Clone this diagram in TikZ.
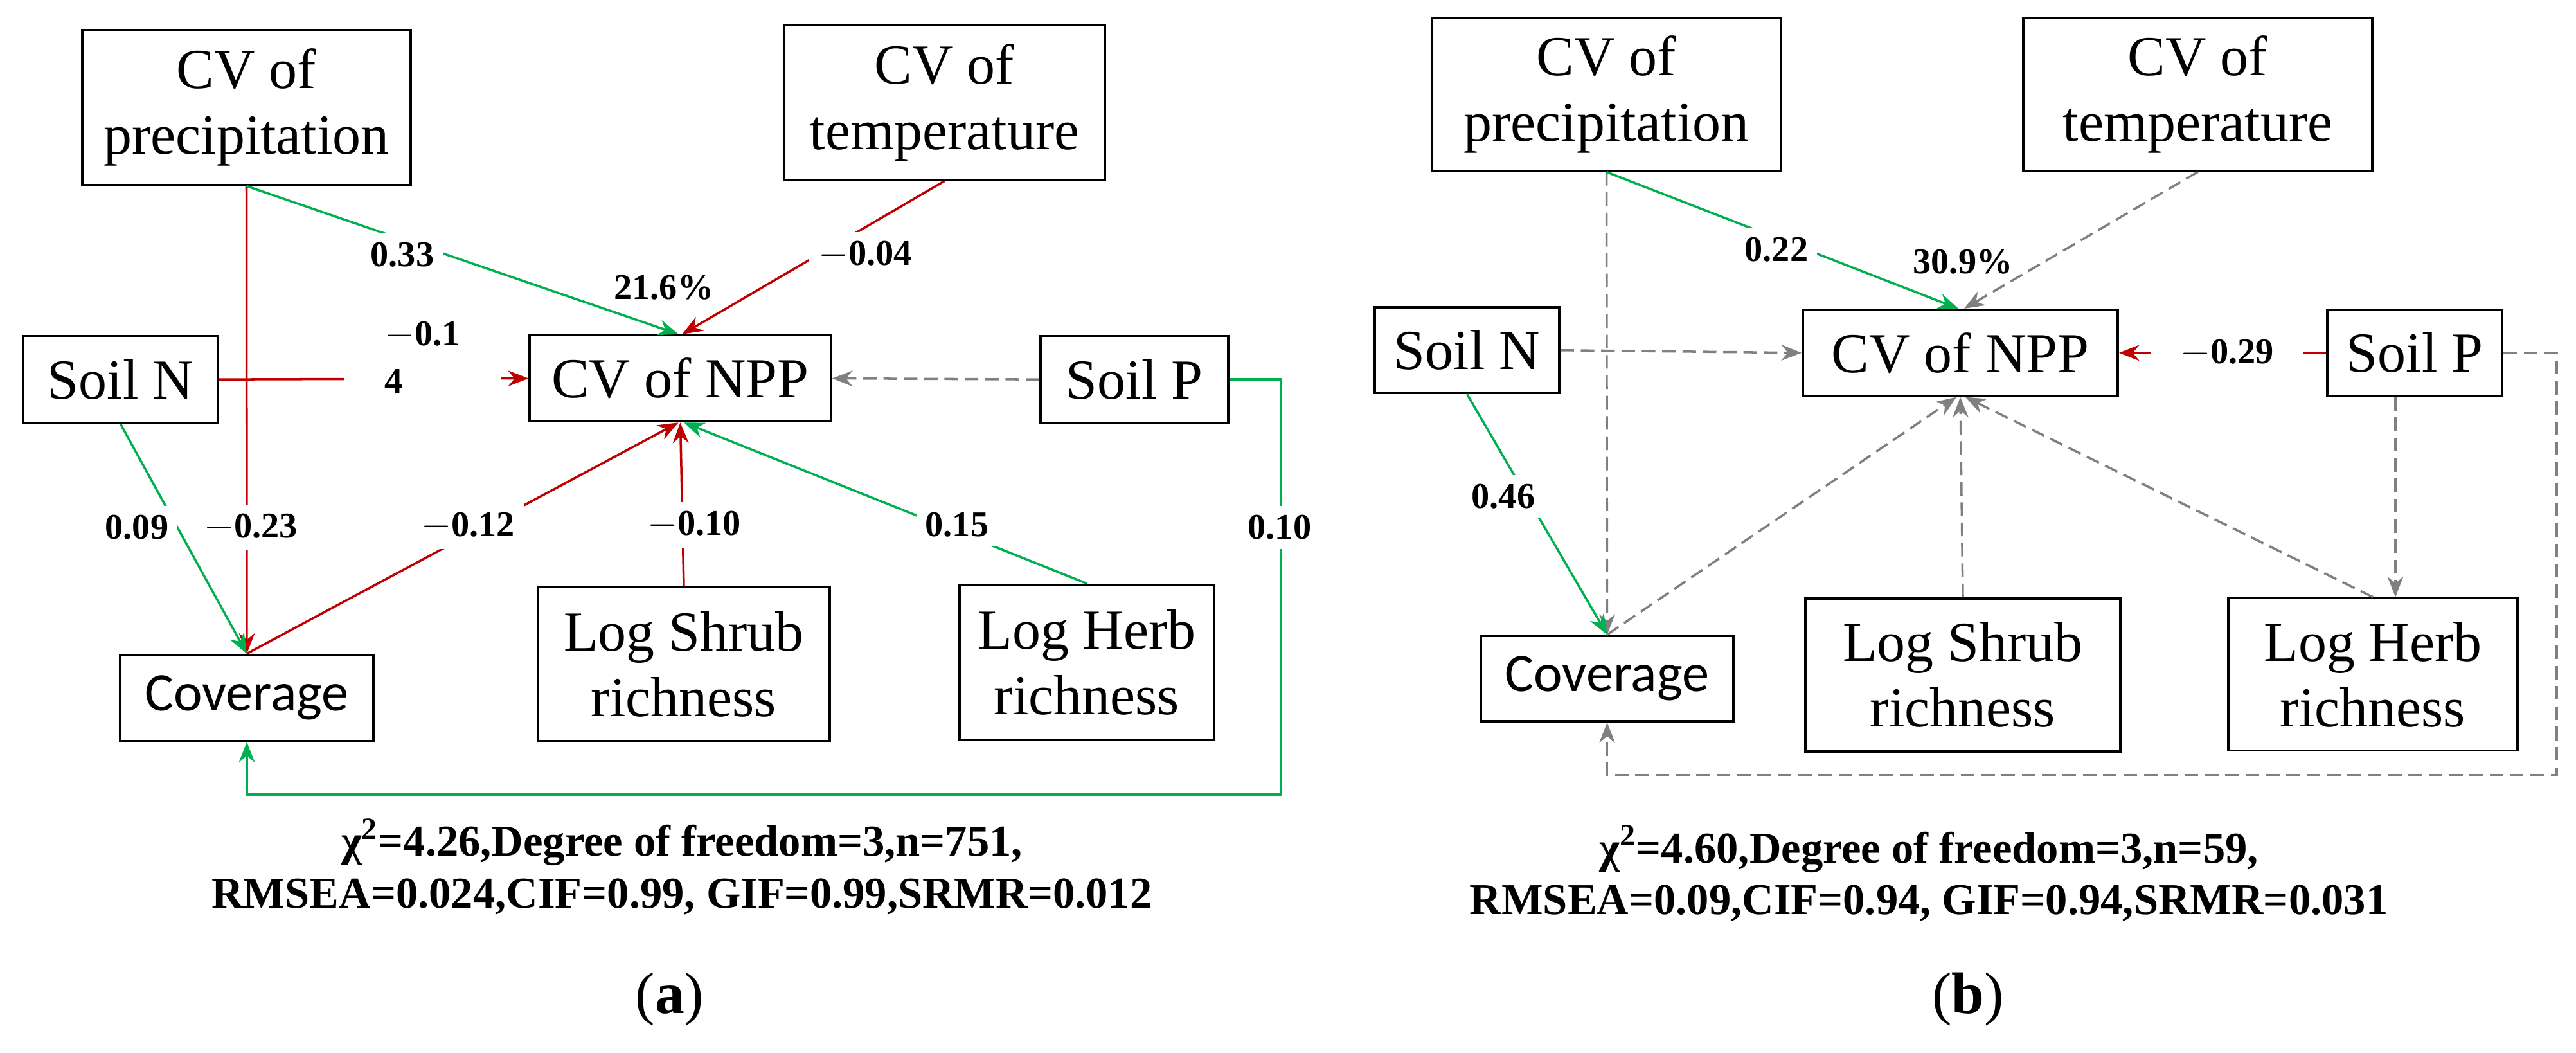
\documentclass[tikz,border=0pt]{standalone}
\usepackage{fontspec}
\setmainfont{Liberation Serif}
\newfontfamily\covfont{Carlito}
\usetikzlibrary{arrows.meta,calc}
\definecolor{grn}{RGB}{0,176,80}
\definecolor{rd}{RGB}{192,0,0}
\definecolor{gry}{RGB}{128,128,128}
\begin{document}
\begin{tikzpicture}[x=0.01cm,y=-0.0081cm,
  box/.style={draw,line width=1pt,align=center,inner sep=0pt,font=\fontsize{25}{29}\selectfont},
  cbox/.style={box,font=\covfont\fontsize{24}{28}\selectfont},
  lab/.style={fill=white,inner sep=4pt,font=\bfseries\fontsize{16}{21}\selectfont},
  arr/.style={line width=1pt,-{Stealth[length=9pt,width=7pt]}},
  g/.style={arr,grn}, r/.style={arr,rd},
  d/.style={arr,gry,dashed,dash pattern=on 6pt off 3pt},
  stat/.style={align=center,font=\bfseries\fontsize{19.5}{23}\selectfont}]
\useasboundingbox (0,0) rectangle (4008,2019.75);
% ---------- (a)
\node[box,minimum width=5.11cm,minimum height=2.41cm] (pa) at (383.5,206) {CV of\\precipitation};
\node[box,minimum width=4.99cm,minimum height=2.40cm] (ta) at (1469.5,197) {CV of\\temperature};
\node[box,minimum width=3.03cm,minimum height=1.35cm] (na) at (187.5,728) {Soil N};
\node[box,minimum width=4.69cm,minimum height=1.34cm] (va) at (1058.5,726) {CV of NPP};
\node[box,minimum width=2.92cm,minimum height=1.35cm] (spa) at (1765,728) {Soil P};
\node[cbox,minimum width=3.94cm,minimum height=1.34cm] (ca) at (384,1339) {Coverage};
\node[box,minimum width=4.54cm,minimum height=2.39cm] (sha) at (1064,1274.5) {Log Shrub\\richness};
\node[box,minimum width=3.96cm,minimum height=2.41cm] (ha) at (1691,1270.5) {Log Herb\\richness};

\draw[r] (pa.south) -- (ca.north);
\draw[g] (na.south) -- (ca.north);
\draw[r] (na.east) -- (va.west);
\draw[g] (pa.south) -- ($(va.north)+(-3,0)$);
\draw[r] (ta.south) -- ($(va.north)+(3,0)$);
\draw[r] (ca.north) -- ($(va.south)+(-3,0)$);
\draw[r] (sha.north) -- (va.south);
\draw[g] (ha.north) -- ($(va.south)+(6,0)$);
\draw[d] (spa.west) -- (va.east);
\draw[g] (spa.east) -- ++(80,0) |- ($(ca.south)+(0,101)$) -- (ca.south);

\node[lab] (l1) at (626,489) {0.33};
\node[lab] (l2) at (1346,489) {$-$0.04};
\node[font=\bfseries\fontsize{16}{20}\selectfont] (l3) at (1033,552) {21.6\%};
\node[lab,anchor=base west,align=left,inner xsep=18pt] (l4) at (534,754) {$-$0.1\\4};
\node[lab] (l5) at (213,1012) {0.09};
\node[lab] (l6) at (390,1012) {$-$0.23};
\node[lab] (l7) at (728,1010) {$-$0.12};
\node[lab] (l8) at (1080,1007) {$-$0.10};
\node[lab] (l9) at (1489,1007) {0.15};
\node[lab] (l10) at (1991,1012) {0.10};
\node[stat] (sa) at (1061,1663) {χ\textsuperscript{2}=4.26,Degree of freedom=3,n=751,\\RMSEA=0.024,CIF=0.99, GIF=0.99,SRMR=0.012};
\node[font=\fontsize{26}{30}\selectfont] (capa) at (1042,1917) {(\textbf{a})};

% ---------- (b)
\node[box,minimum width=5.43cm,minimum height=2.37cm] (pb) at (2499.5,181.5) {CV of\\precipitation};
\node[box,minimum width=5.43cm,minimum height=2.37cm] (tb) at (3419.5,181.5) {CV of\\temperature};
\node[box,minimum width=2.87cm,minimum height=1.33cm] (nb) at (2282.5,672) {Soil N};
\node[box,minimum width=4.9cm,minimum height=1.34cm] (vb) at (3050,677) {CV of NPP};
\node[box,minimum width=2.72cm,minimum height=1.34cm] (spb) at (3757,677) {Soil P};
\node[cbox,minimum width=3.93cm,minimum height=1.33cm] (cb) at (2500.5,1302) {Coverage};
\node[box,minimum width=4.9cm,minimum height=2.38cm] (shb) at (3054,1295) {Log Shrub\\richness};
\node[box,minimum width=4.5cm,minimum height=2.37cm] (hb) at (3692,1294) {Log Herb\\richness};

\draw[d] (pb.south) -- (cb.north);
\draw[d] (nb.east) -- (vb.west);
\draw[g] (nb.south) -- (cb.north);
\draw[g] (pb.south) -- ($(vb.north)+(-3,0)$);
\draw[d] (tb.south) -- ($(vb.north)+(6,0)$);
\draw[d] (cb.north) -- ($(vb.south)+(-6,0)$);
\draw[d] (shb.north) -- (vb.south);
\draw[d] (hb.north) -- ($(vb.south)+(8,0)$);
\draw[r] (spb.west) -- (vb.east);
\draw[d] ($(spb.south)+(-30,0)$) -- ($(hb.north)+(35,0)$);
\draw[d] (spb.east) -- ++(83,0) |- ($(cb.south)+(0,101)$) -- (cb.south);

\node[lab] (m1) at (2764,479) {0.22};
\node[font=\bfseries\fontsize{16}{20}\selectfont] (m2) at (3054,502) {30.9\%};
\node[lab] (m3) at (2339,952) {0.46};
\node[lab,inner xsep=13pt] (m4) at (3465,677) {$-$0.29};
\node[stat] (sb) at (3001,1676) {χ\textsuperscript{2}=4.60,Degree of freedom=3,n=59,\\RMSEA=0.09,CIF=0.94, GIF=0.94,SRMR=0.031};
\node[font=\fontsize{26}{30}\selectfont] (capb) at (3062,1917) {(\textbf{b})};
\end{tikzpicture}
\end{document}
